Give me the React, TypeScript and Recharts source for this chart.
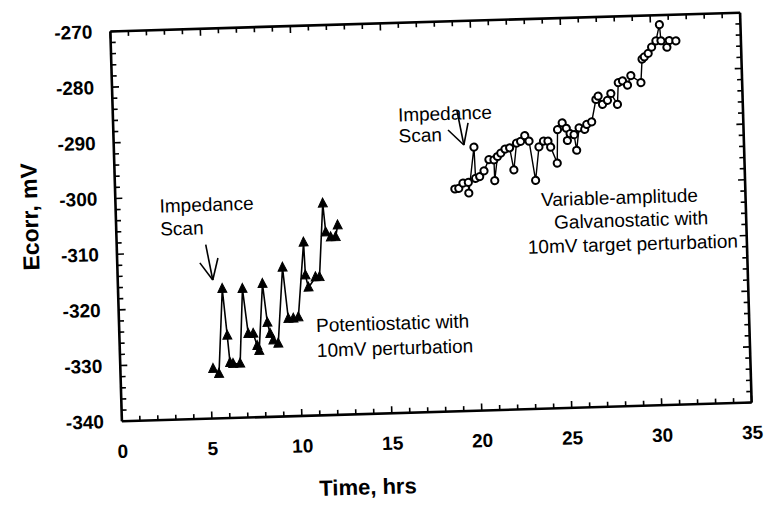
import React from 'react';
import { LineChart, Line, XAxis, YAxis } from 'recharts';

// Potentiostatic (10 mV perturbation) series
const potTime = [5.15, 5.47, 5.79, 5.99, 6.1, 6.27, 6.66, 6.91, 7.16, 7.44, 7.64, 7.74, 8.03, 8.24, 8.38, 8.54, 8.81, 9.17, 9.41, 9.69, 9.97, 10.38, 10.43, 10.58, 10.99, 11.21, 11.51, 11.63, 11.9, 12.17, 12.3];
const potEcorr = [-331.1, -332.0, -316.8, -325.2, -330.1, -330.3, -330.3, -316.9, -325.0, -325.0, -327.2, -328.1, -316.1, -323.1, -325.1, -326.3, -326.9, -313.3, -322.5, -322.5, -322.3, -308.9, -314.8, -317.0, -315.2, -315.2, -302.0, -307.2, -308.1, -308.1, -306.0];

// Variable-amplitude galvanostatic series
const galTime = [18.87, 19.09, 19.33, 19.63, 19.64, 20.0, 20.04, 20.27, 20.52, 20.81, 21.09, 21.1, 21.29, 21.48, 21.72, 21.98, 22.18, 22.37, 22.6, 22.84, 23.07, 23.37, 23.61, 23.87, 24.12, 24.26, 24.6, 24.67, 24.94, 25.16, 25.2, 25.36, 25.58, 25.7, 25.87, 26.18, 26.3, 26.58, 26.85, 26.98, 27.21, 27.49, 27.69, 28.04, 28.12, 28.36, 28.63, 28.83, 29.38, 29.48, 29.61, 29.83, 30.03, 30.28, 30.5, 30.56, 30.88, 31.02, 31.39];
const galEcorr = [-300.1, -300.0, -299.1, -299.0, -300.9, -292.7, -298.3, -298.0, -297.0, -295.0, -295.1, -298.8, -294.5, -293.9, -293.2, -293.0, -297.0, -292.2, -291.9, -290.9, -291.9, -299.0, -293.0, -292.0, -292.0, -293.1, -296.0, -290.0, -288.8, -289.8, -292.0, -290.8, -291.0, -293.8, -289.8, -290.1, -289.2, -288.8, -284.8, -284.2, -285.7, -285.0, -283.8, -285.8, -281.9, -281.6, -282.4, -280.7, -282.0, -277.8, -277.4, -276.8, -275.7, -274.6, -271.7, -274.6, -275.8, -274.6, -274.7];

// Axis ticks
const xTicks = [0, 1, 2, 3, 4, 5, 6, 7, 8, 9, 10, 11, 12, 13, 14, 15, 16, 17, 18, 19, 20, 21, 22, 23, 24, 25, 26, 27, 28, 29, 30, 31, 32, 33, 34, 35];
const yTicks = [-340, -338, -336, -334, -332, -330, -328, -326, -324, -322, -320, -318, -316, -314, -312, -310, -308, -306, -304, -302, -300, -298, -296, -294, -292, -290, -288, -286, -284, -282, -280, -278, -276, -274, -272, -270];
const xLabelStep = 5;
const yLabelStep = 10;

const potData = potTime.map((t, i) => ({ time: t, ecorr: potEcorr[i] }));
const galData = galTime.map((t, i) => ({ time: t, ecorr: galEcorr[i] }));

const FONT = '"Liberation Sans", Arial, Helvetica, sans-serif';

const isMajorX = (v: number) => Math.abs(v % xLabelStep) < 1e-9;
const isMajorY = (v: number) => Math.abs(v % yLabelStep) < 1e-9;

const BottomTick = (props: any) => {
  const { x, y, payload } = props;
  const v = payload.value;
  const major = isMajorX(v);
  return (
    <g>
      <line x1={x} y1={y} x2={x} y2={y - (major ? 7 : 5)} stroke="#000" strokeWidth={1.6} />
      {major && (
        <text x={x} y={y + 30} textAnchor="middle" dominantBaseline="central" fontSize={19} fontWeight="bold" fontFamily={FONT} fill="#000">
          {v}
        </text>
      )}
    </g>
  );
};

const TopTick = (props: any) => {
  const { x, y, payload } = props;
  const major = isMajorX(payload.value);
  return <line x1={x} y1={y} x2={x} y2={y + (major ? 7 : 5)} stroke="#000" strokeWidth={1.6} />;
};

const LeftTick = (props: any) => {
  const { x, y, payload } = props;
  const v = payload.value;
  const major = isMajorY(v);
  return (
    <g>
      <line x1={x} y1={y} x2={x + (major ? 7 : 5)} y2={y} stroke="#000" strokeWidth={1.6} />
      {major && (
        <text x={x - 18} y={y} textAnchor="end" dominantBaseline="central" fontSize={19} fontWeight="bold" fontFamily={FONT} fill="#000">
          {v}
        </text>
      )}
    </g>
  );
};

const RightTick = (props: any) => {
  const { x, y, payload } = props;
  const major = isMajorY(payload.value);
  return <line x1={x} y1={y} x2={x - (major ? 7 : 5)} y2={y} stroke="#000" strokeWidth={1.6} />;
};

const TriangleDot = (props: any) => {
  const { cx, cy } = props;
  if (cx == null || cy == null) return null;
  return <polygon points={`${cx},${cy - 5.5} ${cx - 4.5},${cy + 3.5} ${cx + 4.5},${cy + 3.5}`} fill="#000" stroke="#000" strokeWidth={1} />;
};

const CircleDot = (props: any) => {
  const { cx, cy } = props;
  if (cx == null || cy == null) return null;
  return <circle cx={cx} cy={cy} r={3.6} fill="#fff" stroke="#000" strokeWidth={2} />;
};

const axisLine = { stroke: '#000', strokeWidth: 2.6 };

const textStyle = { fontFamily: FONT, fontSize: 19, fill: '#000' } as const;

export default function App() {
  return (
    <div style={{ position: 'absolute', left: 0, top: 0, width: 767, height: 508, background: '#fff', overflow: 'hidden' }}>
      <div style={{ position: 'absolute', left: 0, top: 0, width: 767, height: 508, transform: 'rotate(-1.7deg)', transformOrigin: '431px 217px' }}>
        <LineChart width={767} height={508} margin={{ top: 12, right: 11, bottom: 56, left: 56 }}>
          <XAxis xAxisId="bottom" dataKey="time" type="number" domain={[0, 35]} ticks={xTicks} interval={0} orientation="bottom" height={40} tickSize={0} tickMargin={0} axisLine={axisLine} tickLine={false} tick={<BottomTick />} allowDataOverflow />
          <XAxis xAxisId="top" dataKey="time" type="number" domain={[0, 35]} ticks={xTicks} interval={0} orientation="top" height={10} tickSize={0} tickMargin={0} axisLine={axisLine} tickLine={false} tick={<TopTick />} allowDataOverflow />
          <YAxis yAxisId="left" type="number" domain={[-340, -270]} ticks={yTicks} interval={0} orientation="left" width={60} tickSize={0} tickMargin={0} axisLine={axisLine} tickLine={false} tick={<LeftTick />} allowDataOverflow />
          <YAxis yAxisId="right" type="number" domain={[-340, -270]} ticks={yTicks} interval={0} orientation="right" width={10} tickSize={0} tickMargin={0} axisLine={axisLine} tickLine={false} tick={<RightTick />} allowDataOverflow />
          <Line xAxisId="bottom" yAxisId="left" data={potData} dataKey="ecorr" type="linear" stroke="#000" strokeWidth={1.6} dot={<TriangleDot />} isAnimationActive={false} />
          <Line xAxisId="bottom" yAxisId="left" data={galData} dataKey="ecorr" type="linear" stroke="#000" strokeWidth={1.4} dot={<CircleDot />} isAnimationActive={false} />
        </LineChart>
        <svg width={767} height={508} style={{ position: 'absolute', left: 0, top: 0, pointerEvents: 'none' }}>
          {/* axis titles */}
          <text x={360} y={485} textAnchor="middle" dominantBaseline="central" fontFamily={FONT} fontSize={22} fontWeight="bold" fill="#000">Time, hrs</text>
          <text x={30} y={205} textAnchor="middle" dominantBaseline="central" fontFamily={FONT} fontSize={23} fontWeight="bold" fill="#000" transform="rotate(-90 30 205)">Ecorr, mV</text>
          {/* left annotation */}
          <text x={160} y={198} dominantBaseline="central" {...textStyle}>Impedance</text>
          <text x={160} y={221} dominantBaseline="central" {...textStyle}>Scan</text>
          <g stroke="#000" strokeWidth={1.6} fill="none">
            <line x1={205} y1={238} x2={211} y2={273.5} />
            <line x1={198.6} y1={256} x2={211} y2={273.5} />
            <line x1={216.8} y1={251.7} x2={211} y2={273.5} />
          </g>
          <text x={313} y={322} dominantBaseline="central" {...textStyle}>Potentiostatic with</text>
          <text x={313} y={347} dominantBaseline="central" {...textStyle}>10mV perturbation</text>
          {/* right annotation */}
          <text x={401} y={114} dominantBaseline="central" {...textStyle}>Impedance</text>
          <text x={401} y={135} dominantBaseline="central" {...textStyle}>Scan</text>
          <g stroke="#000" strokeWidth={1.6} fill="none">
            <line x1={460} y1={111} x2={466} y2={146} />
            <line x1={450.6} y1={130.5} x2={466} y2={146} />
            <line x1={470.8} y1={124.1} x2={466} y2={146} />
          </g>
          <text x={620} y={203} textAnchor="middle" dominantBaseline="central" {...textStyle}>Variable-amplitude</text>
          <text x={631} y={226} textAnchor="middle" dominantBaseline="central" {...textStyle}>Galvanostatic with</text>
          <text x={632} y={250} textAnchor="middle" dominantBaseline="central" {...textStyle}>10mV target perturbation</text>
        </svg>
      </div>
    </div>
  );
}
